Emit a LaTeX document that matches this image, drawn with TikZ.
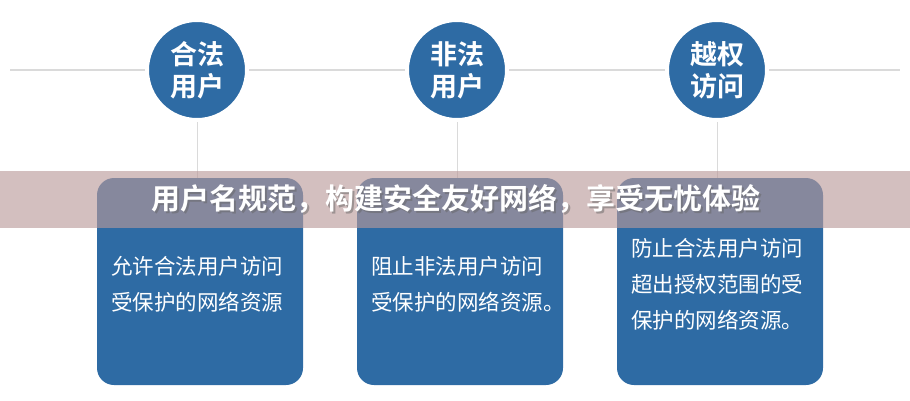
\documentclass[tikz,border=0pt]{standalone}
\usepackage{fontspec}
\newfontfamily\cjk{Noto Sans CJK SC}
\newfontfamily\cjkb{Noto Sans CJK SC Bold}
\usepackage{xcolor}
\definecolor{boxblue}{HTML}{2E6BA4}
\definecolor{linegray}{HTML}{DADADA}
\definecolor{bandrose}{rgb}{0.73,0.60,0.60}
\tikzset{
  badge/.style={circle, fill=boxblue, draw=white, line width=4pt, minimum size=100pt,
    text=white, font=\cjkb\fontsize{27}{32}\selectfont, align=center, inner sep=0pt},
  infobox/.style={rounded corners=17pt, fill=boxblue},
  infotext/.style={text=white, font=\cjk\fontsize{21.5}{36}\selectfont, align=left, anchor=west, inner sep=0pt},
  guide/.style={linegray, line width=2pt}
}
\begin{document}
\begin{tikzpicture}[x=1pt,y=-1pt]
\useasboundingbox (0,0) rectangle (910,400);
% top rail
\coordinate (railL) at (10,70);
\coordinate (railR) at (900,70);
\draw[guide] (railL) -- (railR);
% columns
\foreach \cx/\name/\title/\body in {
  197/legal/{合法\\用户}/{允许合法用户访问\\受保护的网络资源},
  457/illegal/{非法\\用户}/{阻止非法用户访问\\受保护的网络资源。},
  717/over/{越权\\访问}/{防止合法用户访问\\超出授权范围的受\\保护的网络资源。}}{
  \fill[infobox] (\cx-100,178) rectangle (\cx+106,385);
  \node[infotext] (\name-text) at (\cx-86,284) {\body};
  \coordinate (\name-top) at (\cx,178);
  \node[badge] (\name) at (\cx,70) {\title};
  \draw[linegray, line width=1pt] (\name.south) -- (\name-top);
}
% banner
\fill[bandrose, opacity=0.63] (0,171) rectangle (910,228);
\node[text=black!60, opacity=0.5, font=\cjkb\fontsize{29}{34}\selectfont] at (458,201) {用户名规范，构建安全友好网络，享受无忧体验};
\node[text=white, font=\cjkb\fontsize{29}{34}\selectfont] (banner) at (456,199) {用户名规范，构建安全友好网络，享受无忧体验};
\end{tikzpicture}
\end{document}
